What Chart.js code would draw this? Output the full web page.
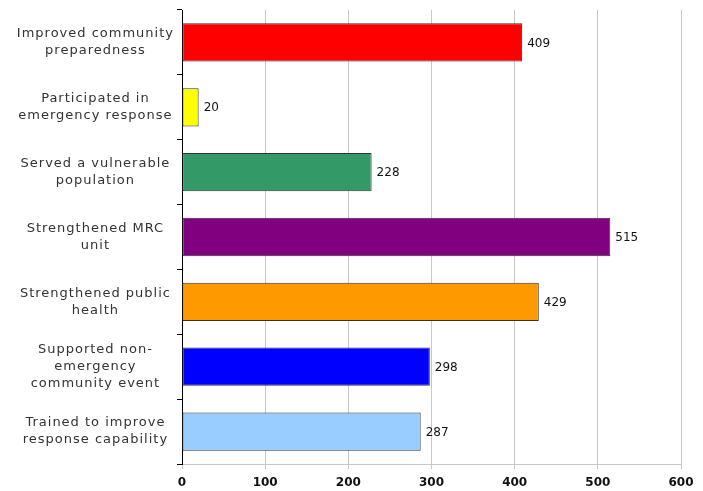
<!DOCTYPE html>
<html>
<head>
<meta charset="utf-8">
<script src="https://cdn.jsdelivr.net/npm/chart.js@4/dist/chart.umd.min.js"></script>
<style>
html,body{margin:0;padding:0;background:#fff;}
#wrap{width:703px;height:491px;position:relative;}
</style>
</head>
<body>
<div id="wrap"><canvas id="c"></canvas></div>
<script>
const categories = [
  ["Improved community", "preparedness"],
  ["Participated in", "emergency response"],
  ["Served a vulnerable", "population"],
  ["Strengthened MRC", "unit"],
  ["Strengthened public", "health"],
  ["Supported non-", "emergency", "community event"],
  ["Trained to improve", "response capability"]
];
const values = [409, 20, 228, 515, 429, 298, 287];
const barColors = ["#FF0000", "#FFFF00", "#339966", "#800080", "#FF9900", "#0000FF", "#99CCFF"];
const xTicks = [0, 100, 200, 300, 400, 500, 600];

const spacing = {
  id: 'spacing',
  beforeDraw(chart) { chart.ctx.letterSpacing = '1px'; },
  beforeDatasetsDraw(chart) { chart.ctx.letterSpacing = '0px'; }
};

const valueLabels = {
  id: 'valueLabels',
  afterDatasetsDraw(chart) {
    const ctx = chart.ctx;
    const meta = chart.getDatasetMeta(0);
    ctx.save();
    ctx.letterSpacing = '0px';
    ctx.font = '12px "DejaVu Sans"';
    ctx.fillStyle = '#111';
    ctx.textAlign = 'left';
    ctx.textBaseline = 'middle';
    meta.data.forEach((bar, i) => {
      ctx.fillText(String(values[i]), bar.x + 5, bar.y + 1);
    });
    ctx.restore();
  }
};

new Chart(document.getElementById('c'), {
  type: 'bar',
  data: {
    labels: categories,
    datasets: [{
      data: values,
      backgroundColor: barColors,
      borderColor: '#333333',
      borderWidth: 1,
      borderSkipped: false,
      categoryPercentage: 1,
      barPercentage: 0.59
    }]
  },
  options: {
    indexAxis: 'y',
    responsive: true,
    maintainAspectRatio: false,
    animation: false,
    layout: { padding: { top: 10, right: 22, left: 0, bottom: 0 } },
    plugins: { legend: { display: false }, tooltip: { enabled: false } },
    scales: {
      x: {
        min: 0, max: 600,
        afterBuildTicks(scale) { scale.ticks = xTicks.map(v => ({ value: v })); },
        afterFit(scale) { scale.height = 27; scale.paddingLeft = 0; scale.paddingRight = 0; },
        grid: { color: '#c8c8c8', lineWidth: 1, tickLength: 5, drawTicks: true },
        border: { color: '#c8c8c8' },
        ticks: { z: 1, color: '#111', font: { family: 'DejaVu Sans', size: 12, weight: 'bold' }, padding: 7 }
      },
      y: {
        afterFit(scale) { scale.width = 182; scale.paddingTop = 0; scale.paddingBottom = 0; },
        grid: { drawOnChartArea: false, drawTicks: true, tickLength: 5, color: '#000', offset: true },
        border: { color: '#000' },
        ticks: {
          crossAlign: 'center',
          color: '#333',
          padding: 12,
          font: { family: 'DejaVu Sans', size: 13, lineHeight: 1.3 }
        }
      }
    }
  },
  plugins: [spacing, valueLabels]
});
</script>
</body>
</html>
